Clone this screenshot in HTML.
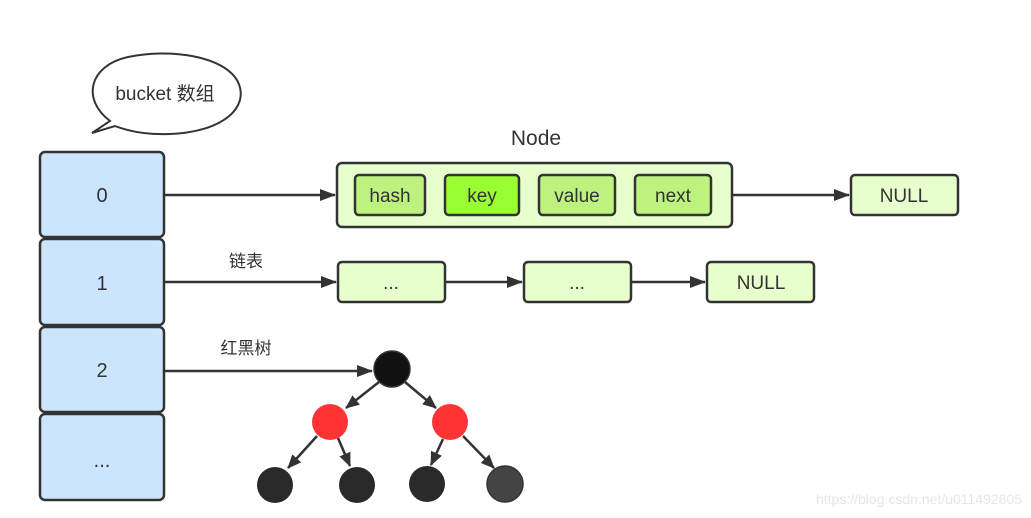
<!DOCTYPE html>
<html><head><meta charset="utf-8"><style>
html,body{margin:0;padding:0;background:#fff}
svg{display:block}
text{font-family:"Liberation Sans","Noto Sans CJK SC",sans-serif;fill:#333}
</style></head><body>
<svg width="1031" height="518" viewBox="0 0 1031 518" xmlns="http://www.w3.org/2000/svg">
<defs>
<marker id="a" markerWidth="14" markerHeight="12" refX="13" refY="6" orient="auto" markerUnits="userSpaceOnUse">
<path d="M0,0 L14,6 L0,12 Z" fill="#333"/></marker>
<marker id="b" markerWidth="16" markerHeight="12" refX="15" refY="6" orient="auto" markerUnits="userSpaceOnUse">
<path d="M0,0 L16,6 L0,12 Z" fill="#333"/></marker>
</defs>
<!-- bubble -->
<path d="M110,121 C82,100 88,66 128,57 C170,48 225,56 238,82 C250,108 222,132 170,134 C145,135 128,131 115,126 L92,133 Z" fill="#fff" stroke="#333" stroke-width="2"/>
<text x="165" y="100" font-size="19" text-anchor="middle">bucket 数组</text>
<!-- buckets -->
<g fill="#cce5ff" stroke="#333" stroke-width="2.5">
<rect x="40" y="152" width="124" height="85" rx="5"/>
<rect x="40" y="239" width="124" height="86" rx="5"/>
<rect x="40" y="327" width="124" height="85" rx="5"/>
<rect x="40" y="414" width="124" height="86" rx="5"/>
</g>
<g font-size="20" text-anchor="middle">
<text x="102" y="202">0</text><text x="102" y="290">1</text><text x="102" y="377">2</text><text x="102" y="467">...</text>
</g>
<!-- Node -->
<text x="536" y="145" font-size="21" text-anchor="middle">Node</text>
<rect x="337" y="163" width="395" height="64" rx="5" fill="#e6ffcc" stroke="#333" stroke-width="2.5"/>
<g stroke="#333" stroke-width="2.5">
<rect x="355" y="175" width="70" height="40" rx="4" fill="#bdf27f"/>
<rect x="445" y="175" width="74" height="40" rx="4" fill="#99ff33"/>
<rect x="539" y="175" width="76" height="40" rx="4" fill="#bdf27f"/>
<rect x="635" y="175" width="76" height="40" rx="4" fill="#bdf27f"/>
</g>
<g font-size="19" text-anchor="middle">
<text x="390" y="202">hash</text><text x="482" y="202">key</text><text x="577" y="202">value</text><text x="673" y="202">next</text>
</g>
<rect x="851" y="175" width="107" height="40" rx="4" fill="#e6ffcc" stroke="#333" stroke-width="2.5"/>
<text x="904" y="202" font-size="19" text-anchor="middle">NULL</text>
<g stroke="#333" stroke-width="2.5">
<line x1="165" y1="195" x2="335" y2="195" marker-end="url(#b)"/>
<line x1="733" y1="195" x2="849" y2="195" marker-end="url(#b)"/>
<line x1="165" y1="282" x2="336" y2="282" marker-end="url(#b)"/>
<line x1="446" y1="282" x2="522" y2="282" marker-end="url(#b)"/>
<line x1="632" y1="282" x2="705" y2="282" marker-end="url(#b)"/>
<line x1="165" y1="371" x2="372" y2="371" marker-end="url(#b)"/>
</g>
<!-- row1 -->
<g fill="#e6ffcc" stroke="#333" stroke-width="2.5">
<rect x="338" y="262" width="107" height="40" rx="4"/>
<rect x="524" y="262" width="107" height="40" rx="4"/>
<rect x="707" y="262" width="107" height="40" rx="4"/>
</g>
<g font-size="19" text-anchor="middle">
<text x="391" y="289">...</text><text x="577" y="289">...</text><text x="761" y="289">NULL</text>
</g>
<text x="246" y="267" font-size="17" text-anchor="middle">链表</text>
<text x="246" y="354" font-size="17" text-anchor="middle">红黑树</text>
<!-- tree edges -->
<g stroke="#333" stroke-width="2.5">
<line x1="379" y1="382" x2="346" y2="408" marker-end="url(#a)"/>
<line x1="405" y1="382" x2="436" y2="408" marker-end="url(#a)"/>
<line x1="317" y1="436" x2="288" y2="468" marker-end="url(#a)"/>
<line x1="338" y1="438" x2="350" y2="466" marker-end="url(#a)"/>
<line x1="443" y1="439" x2="431" y2="465" marker-end="url(#a)"/>
<line x1="463" y1="436" x2="494" y2="468" marker-end="url(#a)"/>
</g>
<circle cx="392" cy="369" r="18" fill="#111" stroke="#333" stroke-width="1.5"/>
<circle cx="330" cy="422" r="18" fill="#ff3333"/>
<circle cx="450" cy="422" r="18" fill="#ff3333"/>
<circle cx="275" cy="485" r="18" fill="#2a2a2a"/>
<circle cx="357" cy="485" r="18" fill="#2a2a2a"/>
<circle cx="427" cy="484" r="18" fill="#2a2a2a"/>
<circle cx="505" cy="484" r="18" fill="#444" stroke="#333" stroke-width="1.5"/>
<text x="1022" y="504" font-size="14" text-anchor="end" style="fill:#e6e6e6">https://blog.csdn.net/u011492805</text>
</svg>
</body></html>
